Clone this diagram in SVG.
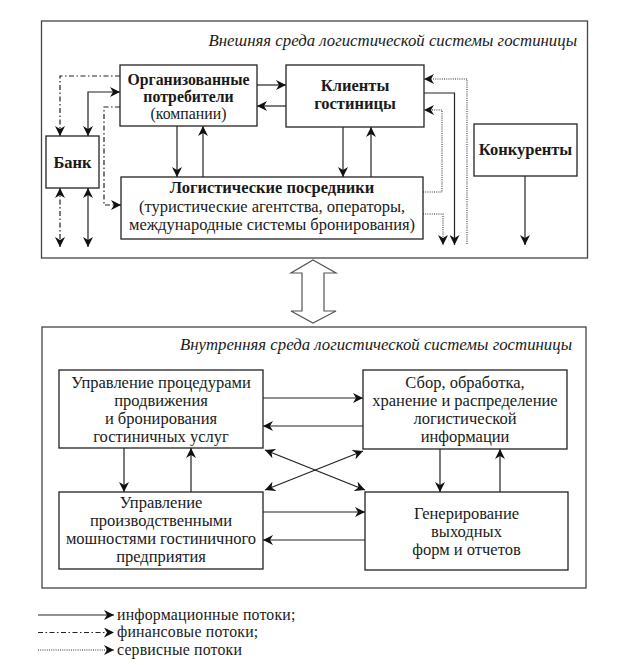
<svg xmlns="http://www.w3.org/2000/svg" width="622" height="665" viewBox="0 0 622 665">
<style>
.frame{fill:none;stroke:#444;stroke-width:1.3}
.box{fill:#fff;stroke:#222;stroke-width:1.3}
.t{font-family:"Liberation Serif","Times New Roman",serif;font-size:16.5px;fill:#1a1a1a;text-anchor:middle}
.b{font-weight:bold}
.o{font-size:15.8px}
.it{font-family:"Liberation Serif","Times New Roman",serif;font-style:italic;font-size:16.8px;fill:#1a1a1a;text-anchor:end}
.lg{font-family:"Liberation Serif","Times New Roman",serif;font-size:15.8px;letter-spacing:0.2px;fill:#1a1a1a}
.s{fill:none;stroke:#222;stroke-width:1.2}
.f{fill:none;stroke:#222;stroke-width:1.2;stroke-dasharray:5,2.5,1.5,2.5}
.d{fill:none;stroke:#333;stroke-width:1.1;stroke-dasharray:1,1.2}
.ae{marker-end:url(#ah)}
.ab{marker-start:url(#ahs);marker-end:url(#ah)}
</style>
<defs>
<marker id="ah" markerUnits="userSpaceOnUse" markerWidth="12" markerHeight="10" refX="10" refY="5" orient="auto">
<path d="M0,0 L10,5 L0,10 L3,5 z" fill="#111"/>
</marker>
<marker id="ahs" markerUnits="userSpaceOnUse" markerWidth="12" markerHeight="10" refX="10" refY="5" orient="auto-start-reverse">
<path d="M0,0 L10,5 L0,10 L3,5 z" fill="#111"/>
</marker>
</defs>
<rect width="622" height="665" fill="#fff"/>

<g id="external-frame">
<rect class="frame" x="41.5" y="21" width="546" height="237"/>
<text class="it" x="577" y="46">Внешняя среда логистической системы гостиницы</text>
</g>

<g id="internal-frame">
<rect class="frame" x="42" y="327" width="544" height="261"/>
<text class="it" x="572" y="350">Внутренняя среда логистической системы гостиницы</text>
</g>

<g id="connectors">
<path class="f ae" d="M120,76 H60 V136"/>
<path class="s ab" d="M88,136 V92 H120"/>
<path class="f ae" d="M120,107 H104 V205 H121"/>
<path class="f ab" d="M60,188 V247"/>
<path class="s ab" d="M88,188 V247"/>
<path class="s ae" d="M177,126 V177"/>
<path class="s ae" d="M203,177 V126"/>
<path class="s ae" d="M257,85 H286"/>
<path class="s ae" d="M286,106 H257"/>
<path class="s ae" d="M343,127 V177"/>
<path class="s ae" d="M371,177 V127"/>
<path class="d ae" d="M467,244 V79 H424"/>
<path class="s ae" d="M424,93 H454.5 V245"/>
<path class="d ae" d="M423,192 H442 V110 H424"/>
<path class="d ae" d="M423,214 H443 V245"/>
<path class="s ae" d="M525,176 V245"/>
<polygon points="313,260 336,273 324,273 324,311 336,311 313,323 291,311 302,311 302,273 291,273" fill="#fff" stroke="#555" stroke-width="1.2"/>
<path class="s ae" d="M263,398 H363"/>
<path class="s ae" d="M363,426 H263"/>
<path class="s ae" d="M263,512 H365"/>
<path class="s ae" d="M365,540 H263"/>
<path class="s ae" d="M124,448 V492"/>
<path class="s ae" d="M191,492 V448"/>
<path class="s ae" d="M440,449 V492"/>
<path class="s ae" d="M500,492 V449"/>
<path class="s ab" d="M265,490 L363,451"/>
<path class="s ab" d="M265,450 L365,490"/>
</g>

<g id="org-consumers">
<rect class="box" x="120" y="65" width="137" height="61"/>
<text class="t b o" x="188.5" y="85">Организованные</text>
<text class="t b o" x="188.5" y="102">потребители</text>
<text class="t o" x="188.5" y="119">(компании)</text>
</g>

<g id="clients">
<rect class="box" x="286" y="65" width="138" height="62"/>
<text class="t b" x="355" y="91">Клиенты</text>
<text class="t b" x="355" y="109">гостиницы</text>
</g>

<g id="bank">
<rect class="box" x="46" y="136" width="53" height="52"/>
<text class="t b" x="72.5" y="168">Банк</text>
</g>

<g id="logistic-intermediaries">
<rect class="box" x="121" y="177" width="302" height="62"/>
<text class="t b" x="272" y="193">Логистические посредники</text>
<text class="t" x="272" y="212">(туристические агентства, операторы,</text>
<text class="t" x="272" y="230">международные системы бронирования)</text>
</g>

<g id="competitors">
<rect class="box" x="474" y="124" width="103" height="52"/>
<text class="t b" x="525.5" y="155">Конкуренты</text>
</g>

<g id="promotion">
<rect class="box" x="59" y="370" width="204" height="78"/>
<text class="t" x="161" y="388">Управление процедурами</text>
<text class="t" x="161" y="406">продвижения</text>
<text class="t" x="161" y="424">и бронирования</text>
<text class="t" x="161" y="442">гостиничных услуг</text>
</g>

<g id="information">
<rect class="box" x="363" y="370" width="204" height="79"/>
<text class="t" x="465" y="388">Сбор, обработка,</text>
<text class="t" x="465" y="406">хранение и распределение</text>
<text class="t" x="465" y="424">логистической</text>
<text class="t" x="465" y="442">информации</text>
</g>

<g id="capacity">
<rect class="box" x="59" y="492" width="204" height="77"/>
<text class="t" x="161" y="508">Управление</text>
<text class="t" x="161" y="526">производственными</text>
<text class="t" x="161" y="544">мошностями гостиничного</text>
<text class="t" x="161" y="562">предприятия</text>
</g>

<g id="reports">
<rect class="box" x="365" y="492" width="203" height="78"/>
<text class="t" x="466.5" y="519">Генерирование</text>
<text class="t" x="466.5" y="537">выходных</text>
<text class="t" x="466.5" y="555">форм и отчетов</text>
</g>

<g id="legend">
<path class="s ae" d="M38,615 H114"/>
<path class="f ae" d="M38,632.5 H114"/>
<path class="d ae" d="M38,650 H114"/>
<text class="lg" x="117" y="619.5">информационные потоки;</text>
<text class="lg" x="117" y="637">финансовые потоки;</text>
<text class="lg" x="117" y="654.5">сервисные потоки</text>
</g>
</svg>
